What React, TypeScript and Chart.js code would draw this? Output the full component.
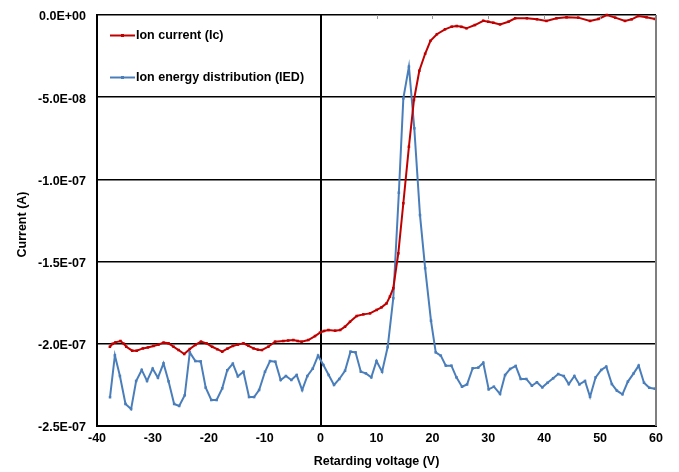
import React, { useEffect, useRef } from "react";
import { Chart, registerables } from "chart.js";

Chart.register(...registerables);

// Retarding voltage (V) and current (in units of 1e-7 A)
const ionCurrentVoltage = [
  -37.7, -37.2, -36.7, -35.8, -35.2, -34.75, -33.7, -32.9, -31.8, -30.9, -29.9, -29.0, -28.1, -27.2,
  -26.3, -25.4, -24.4, -23.4, -22.4, -21.4, -20.4, -19.4, -18.5, -17.6, -16.7, -15.7, -14.8, -13.8,
  -12.9, -12.0, -11.2, -10.5, -9.35, -8.15, -6.67, -5.8, -4.88, -4.1, -3.4, -2.2, -1.0, -0.1, 0.6,
  1.4, 2.6, 3.5, 4.37, 5.26, 6.46, 7.65, 8.84, 10.03, 10.9, 11.8, 12.4, 13.0, 13.9, 14.8, 15.8, 16.7,
  17.66, 18.7, 19.65, 20.8, 22.25, 23.45, 24.35, 25.2, 26.1, 27.6, 29.1, 30.0, 30.9, 32.1, 33.6,
  34.8, 36.9, 38.7, 40.4, 42.2, 44.0, 46.1, 48.2, 49.7, 51.2, 52.7, 54.45, 55.65, 56.8, 58.3, 59.8,
];
const ionCurrentE7 = [
  -2.018, -2.0, -1.991, -1.983, -2.0, -2.018, -2.042, -2.042, -2.028, -2.022, -2.013, -2.005, -1.993, -1.997,
  -2.018, -2.038, -2.062, -2.032, -2.007, -1.987, -1.997, -2.018, -2.033, -2.048, -2.03, -2.013, -2.005, -1.997,
  -2.012, -2.028, -2.036, -2.038, -2.018, -1.987, -1.983, -1.98, -1.977, -1.983, -1.987, -1.977, -1.953, -1.932, -1.922,
  -1.916, -1.92, -1.916, -1.896, -1.866, -1.831, -1.821, -1.815, -1.794, -1.778, -1.754, -1.713, -1.662, -1.45, -1.145, -0.801, -0.517,
  -0.339, -0.236, -0.157, -0.117, -0.087, -0.071, -0.067, -0.072, -0.081, -0.061, -0.035, -0.041, -0.047, -0.057, -0.041,
  -0.02, -0.02, -0.026, -0.036, -0.02, -0.014, -0.016, -0.036, -0.024, 0.0, -0.016, -0.036, -0.026, -0.006, -0.014, -0.024,
];

const iedVoltage = [
  -37.67, -36.8, -35.9, -34.9, -33.9, -33.0, -32.0, -31.05, -30.04, -29.1, -28.1, -27.2, -26.2, -25.3,
  -24.3, -23.4, -22.4, -21.45, -20.55, -19.55, -18.6, -17.6, -16.7, -15.7, -14.8, -13.8, -12.8, -11.9,
  -11.0, -9.95, -9.05, -8.1, -7.14, -6.2, -5.24, -4.28, -3.3, -2.37, -1.4, -0.45, 0.5, 1.45, 2.4, 3.35,
  4.37, 5.35, 6.25, 7.2, 8.1, 9.07, 10.0, 11.0, 12.0, 13.0, 14.0, 14.8, 15.8, 16.76, 17.78, 18.7, 19.75,
  20.6, 21.5, 22.4, 23.4, 24.3, 25.3, 26.2, 27.2, 28.2, 29.1, 30.07, 31.0, 32.1, 33.0, 33.9, 34.9, 35.8,
  36.8, 37.8, 38.7, 39.66, 40.6, 41.6, 42.5, 43.5, 44.4, 45.4, 46.3, 47.3, 48.2, 49.2, 50.2, 51.1, 52.1,
  53.0, 54.0, 54.97, 56.0, 56.9, 57.85, 58.8, 59.8,
];
const iedE7 = [
  -2.325, -2.07, -2.196, -2.366, -2.397, -2.226, -2.159, -2.226, -2.151, -2.206, -2.119, -2.228, -2.366, -2.378,
  -2.313, -2.052, -2.105, -2.107, -2.267, -2.342, -2.342, -2.271, -2.161, -2.121, -2.198, -2.17, -2.324, -2.324,
  -2.281, -2.17, -2.105, -2.109, -2.22, -2.196, -2.22, -2.19, -2.281, -2.196, -2.151, -2.072, -2.129, -2.19, -2.25, -2.214,
  -2.164, -2.048, -2.052, -2.17, -2.18, -2.204, -2.105, -2.17, -2.02, -1.723, -1.081, -0.507, -0.314, -0.689, -1.217, -1.54, -1.86,
  -2.052, -2.072, -2.133, -2.133, -2.204, -2.261, -2.247, -2.149, -2.145, -2.115, -2.277, -2.261, -2.305, -2.19, -2.153, -2.135, -2.214,
  -2.214, -2.255, -2.234, -2.265, -2.237, -2.21, -2.184, -2.196, -2.245, -2.196, -2.247, -2.226, -2.322, -2.204, -2.159, -2.139, -2.245,
  -2.285, -2.307, -2.23, -2.18, -2.133, -2.237, -2.267, -2.273,
];

const xTicks = [-40, -30, -20, -10, 0, 10, 20, 30, 40, 50, 60];
const yTicks = [0, -5e-8, -1e-7, -1.5e-7, -2e-7, -2.5e-7];
const topTickMarks = [10, 20, 30, 40, 50];
const yTitle = "Current (A)";
const xTitle = "Retarding voltage (V)";

const FONT = '"Liberation Sans", Arial, Helvetica, sans-serif';
const RED = "#C00000";
const BLUE = "#4A7EBB";

function fmtSci(v: number): string {
  if (Math.abs(v) < 1e-20) return "0.0E+00";
  const [m, e] = v.toExponential(1).split("e");
  const sign = e[0] === "-" ? "-" : "+";
  const digits = e.replace(/^[+-]/, "").padStart(2, "0");
  return `${m}E${sign}${digits}`;
}

const decorations = {
  id: "decorations",
  afterDraw(chart: any) {
    const ctx = chart.ctx;
    const { left, top, right, bottom } = chart.chartArea;
    ctx.save();
    // right border of plot area
    ctx.strokeStyle = "#7f7f7f";
    ctx.lineWidth = 2;
    ctx.beginPath();
    ctx.moveTo(right, top);
    ctx.lineTo(right, bottom);
    ctx.stroke();
    // small tick marks hanging from the top axis line
    const xs = chart.scales.x;
    ctx.lineWidth = 1;
    ctx.strokeStyle = "#9a9a9a";
    topTickMarks.forEach((t) => {
      const px = Math.round(xs.getPixelForValue(t)) + 0.5;
      ctx.beginPath();
      ctx.moveTo(px, top);
      ctx.lineTo(px, top + 4);
      ctx.stroke();
    });
    // y axis title
    ctx.save();
    ctx.translate(23, (top + bottom) / 2 + 4);
    ctx.rotate(-Math.PI / 2);
    ctx.fillStyle = "#000";
    ctx.font = `bold 12.5px ${FONT}`;
    ctx.textAlign = "center";
    ctx.textBaseline = "middle";
    ctx.fillText(yTitle, 0, 0);
    ctx.restore();
    // legend inside plot area
    chart.data.datasets.forEach((ds: any, i: number) => {
      const y = top + 20.5 + i * 42;
      ctx.strokeStyle = ds.borderColor;
      ctx.lineWidth = 2;
      ctx.beginPath();
      ctx.moveTo(left + 13, y);
      ctx.lineTo(left + 38, y);
      ctx.stroke();
      ctx.fillStyle = ds.borderColor;
      ctx.fillRect(left + 24, y - 1.5, 3, 3);
      ctx.fillStyle = "#000";
      ctx.font = `bold 12.5px ${FONT}`;
      ctx.textAlign = "left";
      ctx.textBaseline = "middle";
      ctx.fillText(ds.label, left + 39, y + 0.5);
    });
    ctx.restore();
  },
};

export default function App() {
  const ref = useRef<HTMLCanvasElement | null>(null);
  useEffect(() => {
    if (!ref.current) return;
    const tickFont = { family: FONT, size: 12.5, weight: "bold" as const };
    const chart = new Chart(ref.current, {
      type: "scatter",
      data: {
        datasets: [
          {
            label: "Ion current (Ic)",
            data: ionCurrentVoltage.map((x, i) => ({ x, y: ionCurrentE7[i] * 1e-7 })),
            borderColor: RED,
            backgroundColor: RED,
            showLine: true,
            borderWidth: 2,
            pointStyle: "rect",
            pointRadius: 1.8,
            pointBorderWidth: 0,
            clip: 4,
          },
          {
            label: "Ion energy distribution (IED)",
            data: iedVoltage.map((x, i) => ({ x, y: iedE7[i] * 1e-7 })),
            borderColor: BLUE,
            backgroundColor: BLUE,
            showLine: true,
            borderWidth: 2,
            pointStyle: "rect",
            pointRadius: 1.8,
            pointBorderWidth: 0,
            clip: 4,
          },
        ],
      },
      options: {
        responsive: false,
        animation: false,
        devicePixelRatio: 1,
        layout: { padding: { top: 15, right: 23, left: 0, bottom: 0 } },
        plugins: { legend: { display: false }, tooltip: { enabled: false } },
        scales: {
          x: {
            type: "linear",
            min: -40,
            max: 60,
            afterBuildTicks: (s: any) => {
              s.ticks = xTicks.map((v) => ({ value: v }));
            },
            afterFit: (s: any) => {
              s.height = 46;
              s.paddingLeft = 0;
              s.paddingRight = 0;
            },
            grid: {
              color: (c: any) => (c.tick && c.tick.value === 0 ? "#000" : "rgba(0,0,0,0)"),
              lineWidth: 2,
              drawTicks: false,
            },
            border: { display: true, color: "#000", width: 2 },
            ticks: { color: "#000", font: tickFont, padding: 5, maxRotation: 0, autoSkip: false },
            title: {
              display: true,
              text: xTitle,
              color: "#000",
              font: { family: FONT, size: 12.5, weight: "bold" },
              padding: { top: 0, bottom: 3 },
            },
          },
          y: {
            type: "linear",
            min: -2.5e-7,
            max: 0,
            afterBuildTicks: (s: any) => {
              s.ticks = yTicks.map((v) => ({ value: v }));
            },
            afterFit: (s: any) => {
              s.width = 97;
              s.paddingTop = 0;
              s.paddingBottom = 0;
            },
            grid: { color: "#000", lineWidth: 1.6, drawTicks: false },
            border: { display: true, color: "#000", width: 2 },
            ticks: {
              color: "#000",
              font: tickFont,
              padding: 11,
              labelOffset: 2,
              autoSkip: false,
              callback: (v: any) => fmtSci(Number(v)),
            },
            title: { display: false },
          },
        },
      },
      plugins: [decorations],
    } as any);
    return () => chart.destroy();
  }, []);
  return (
    <div style={{ position: "absolute", left: 0, top: 0, width: 679, height: 472, background: "#fff" }}>
      <canvas ref={ref} width={679} height={472} style={{ display: "block" }} />
    </div>
  );
}
